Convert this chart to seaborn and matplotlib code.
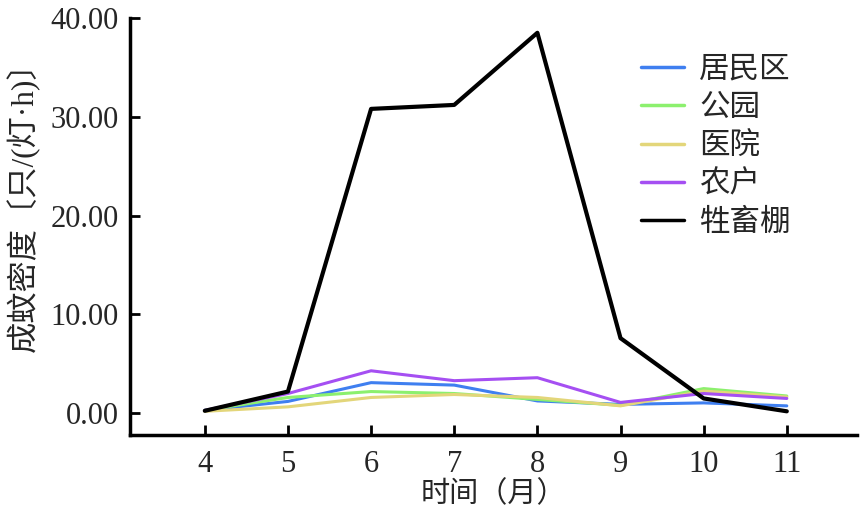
import matplotlib
matplotlib.use("Agg")
import matplotlib.pyplot as plt
import seaborn as sns
import pandas as pd

months = [4, 5, 6, 7, 8, 9, 10, 11]
sites = ["居民区", "公园", "医院", "农户", "牲畜棚"]
resid = [0.3, 1.2, 3.1, 2.85, 1.25, 0.9, 1.05, 0.75]
park = [0.3, 1.6, 2.2, 2.0, 1.4, 0.8, 2.5, 1.75]
hosp = [0.2, 0.65, 1.6, 1.9, 1.6, 0.75, 2.25, 1.65]
farm = [0.3, 2.0, 4.3, 3.3, 3.6, 1.1, 2.0, 1.5]
barn = [0.25, 2.2, 30.8, 31.2, 38.5, 7.6, 1.5, 0.2]
colors = ["#3f7ff0", "#8cf06e", "#e3d67a", "#a54ff2", "#000000"]
yticks = [0, 10, 20, 30, 40]
xticks = months

series = [resid, park, hosp, farm, barn]
rows = []
for name, vals in zip(sites, series):
    for m, v in zip(months, vals):
        rows.append({"month": m, "site": name, "density": v})
df = pd.DataFrame(rows)

sns.set_theme(style="white")
fam = ["Liberation Serif", "Noto Sans CJK SC"]
plt.rcParams["font.family"] = fam

fig = plt.figure(figsize=(8.63, 5.13), dpi=100)
ax = fig.add_axes([0.1506, 0.152, 0.843, 0.813])

sns.lineplot(data=df, x="month", y="density", hue="site", hue_order=sites,
             palette=colors, ax=ax, linewidth=2.2, legend=True)
ax.lines[4].set_linewidth(3)

ax.set_xlim(3.1, 11.85)
ax.set_ylim(-2.2, 40)
ax.set_xticks(xticks)
ax.set_xticklabels([str(m) for m in xticks], fontsize=22, family=fam)
ax.set_yticks(yticks)
ax.set_yticklabels([f"{v:.2f}" for v in yticks], fontsize=22, family=fam)
ax.tick_params(axis="both", direction="in", length=7, width=2, color="black",
               left=True, bottom=True, pad=8)
ax.tick_params(axis="x", pad=11)
for s in ["left", "bottom"]:
    ax.spines[s].set_linewidth(2.5)
    ax.spines[s].set_color("black")
for s in ["top", "right"]:
    ax.spines[s].set_visible(False)

ax.set_xlabel("时间（月）", fontsize=21, family=fam, labelpad=1)
ax.set_ylabel("成蚊密度〔只/(灯·h)〕", fontsize=22.5, family=fam)
ax.yaxis.set_label_coords(-0.124, 0.565)

leg = ax.legend(loc="upper left", bbox_to_anchor=(0.665, 0.975), frameon=False,
                prop={"family": fam, "size": 22}, handlelength=1.4,
                labelspacing=0.3, handletextpad=0.5)
for h in leg.get_lines():
    h.set_linewidth(2.5)

fig.savefig("out.png", dpi=100)
